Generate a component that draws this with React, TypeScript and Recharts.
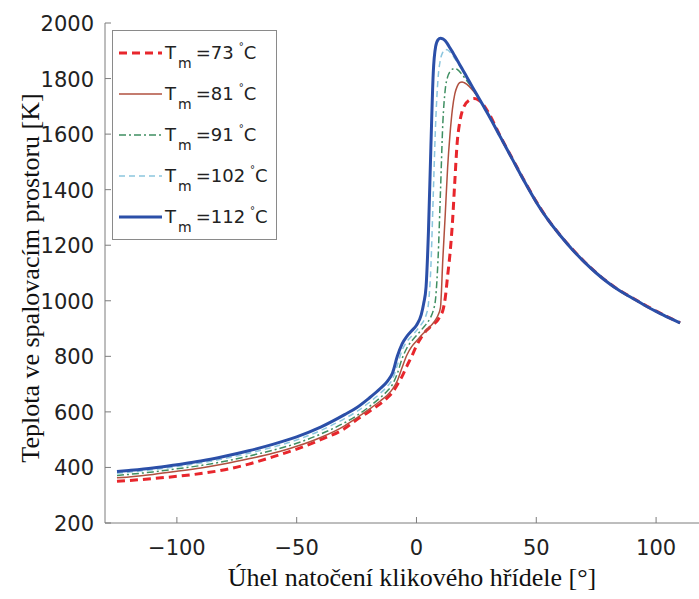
import { LineChart, Line, XAxis, YAxis, Legend } from "recharts";

// crank angle [deg]
const angles = [
  -125, -120, -110, -100, -90, -80, -70, -60, -50, -40, -30, -25, -20, -15, -12, -10,
  -8, -6, -4, -2, 0, 2,
  3, 4, 5, 6, 7, 8, 9, 10, 11, 12, 13, 14, 15, 16, 17, 18, 19, 20,
  22, 24, 26, 28, 30,
  35, 40, 45, 50, 55, 60, 65, 70, 75, 80, 85, 90, 95, 100, 105, 110,
];

// in-cylinder temperature [K] for each intake temperature
const temps73 = [
  350, 353, 360, 368, 378, 392, 412, 438, 466, 500, 540, 572, 600, 630, 652, 670,
  698, 728, 765, 800, 838, 868,
  880, 892, 900, 908, 915, 922, 932, 948, 965, 1010, 1090, 1170, 1280, 1430, 1570, 1640, 1680, 1702,
  1722, 1728, 1722, 1705, 1678,
  1592, 1512, 1432, 1357, 1291, 1236, 1186, 1141, 1101, 1066, 1036, 1011, 986, 963, 941, 921,
];
const temps81 = [
  363, 366, 375, 386, 398, 413, 431, 451, 476, 508, 550, 578, 608, 640, 662, 682,
  712, 760, 805, 835, 855, 875,
  884, 893, 901, 910, 920, 932, 948, 975, 1150, 1310, 1480, 1600, 1690, 1745, 1772, 1785, 1788, 1785,
  1772, 1752, 1728, 1702, 1672,
  1590, 1510, 1430, 1355, 1290, 1235, 1185, 1140, 1100, 1065, 1035, 1010, 985, 962, 940, 920,
];
const temps91 = [
  371, 375, 384, 395, 407, 422, 441, 462, 487, 520, 561, 586, 617, 652, 677, 699,
  738, 792, 830, 855, 875, 895,
  905, 915, 927, 942, 965, 1010, 1150, 1390, 1640, 1760, 1806, 1825, 1834, 1836, 1833, 1825, 1815, 1804,
  1781, 1756, 1729, 1700, 1670,
  1590, 1510, 1430, 1355, 1290, 1235, 1185, 1140, 1100, 1065, 1035, 1010, 985, 962, 940, 920,
];
const temps102 = [
  379, 383, 392, 403, 416, 432, 451, 473, 499, 533, 576, 601, 632, 668, 694, 718,
  768, 822, 853, 873, 893, 915,
  928, 948, 990, 1120, 1380, 1640, 1800, 1868, 1895, 1905, 1903, 1895, 1885, 1872, 1860, 1846, 1832, 1818,
  1790, 1760, 1730, 1700, 1670,
  1590, 1510, 1430, 1355, 1290, 1235, 1185, 1140, 1100, 1065, 1035, 1010, 985, 962, 940, 920,
];
const temps112 = [
  385, 389, 398, 410, 423, 440, 460, 483, 510, 545, 590, 615, 648, 685, 712, 740,
  800, 845, 872, 892, 912, 950,
  990, 1050, 1250, 1550, 1820, 1915, 1940, 1945, 1943, 1936, 1924, 1910, 1896, 1881, 1866, 1851, 1836, 1821,
  1790, 1760, 1730, 1700, 1670,
  1590, 1510, 1430, 1355, 1290, 1235, 1185, 1140, 1100, 1065, 1035, 1010, 985, 962, 940, 920,
];

const xTicks = [-100, -50, 0, 50, 100];
const yTicks = [200, 400, 600, 800, 1000, 1200, 1400, 1600, 1800, 2000];

const series = [
  { key: "t73", label: "73", color: "#e8262c", width: 3, dash: "8 5" },
  { key: "t81", label: "81", color: "#b0503f", width: 1.5, dash: undefined },
  { key: "t91", label: "91", color: "#3f8f62", width: 1.5, dash: "7 3 2 3" },
  { key: "t102", label: "102", color: "#8cc6de", width: 1.5, dash: "6 4" },
  { key: "t112", label: "112", color: "#2b4fa8", width: 3, dash: undefined },
];

const data = angles.map((a, i) => ({
  angle: a,
  t73: temps73[i],
  t81: temps81[i],
  t91: temps91[i],
  t102: temps102[i],
  t112: temps112[i],
}));

const AXIS = "#7d7d7d";
const TICK_FONT = "'DejaVu Sans', sans-serif";
const SERIF = "'Liberation Serif', 'Times New Roman', serif";

function fmt(v: number) {
  return v < 0 ? `\u2212${Math.abs(v)}` : `${v}`;
}

function BottomTick({ x, y, payload }: any) {
  return (
    <g>
      <line x1={x} y1={y} x2={x} y2={y - 6} stroke={AXIS} />
      <text x={x} y={y + 32} textAnchor="middle" fontSize={21} fontFamily={TICK_FONT} fill="#222">
        {fmt(payload.value)}
      </text>
    </g>
  );
}

function TopTick({ x, y }: any) {
  return <line x1={x} y1={y} x2={x} y2={y + 6} stroke={AXIS} />;
}

function LeftTick({ x, y, payload }: any) {
  return (
    <g>
      <line x1={x} y1={y} x2={x + 6} y2={y} stroke={AXIS} />
      <text x={x - 11} y={y + 8} textAnchor="end" fontSize={21} fontFamily={TICK_FONT} fill="#222">
        {payload.value}
      </text>
    </g>
  );
}

function RightTick({ x, y }: any) {
  return <line x1={x} y1={y} x2={x - 6} y2={y} stroke={AXIS} />;
}

function LegendBox() {
  const rowY = [23, 64, 105, 146, 187];
  return (
    <svg width={165} height={210} style={{ display: "block" }}>
      <rect x={0.5} y={0.5} width={164} height={209} fill="#fff" stroke="#8a8a8a" />
      {series.map((s, i) => (
        <g key={s.key}>
          <line
            x1={7}
            x2={50}
            y1={rowY[i]}
            y2={rowY[i]}
            stroke={s.color}
            strokeWidth={s.width}
            strokeDasharray={s.dash}
          />
          <text x={53} y={rowY[i] + 6} fontSize={18} fontFamily={TICK_FONT} fill="#222">
            T
            <tspan dx={2} dy={9} fontSize={14}>m</tspan>
            <tspan dx={4} dy={-9}>={s.label}</tspan>
            <tspan dx={5} dy={-9} fontSize={10}>°</tspan>
            <tspan dx={0} dy={9}>C</tspan>
          </text>
        </g>
      ))}
    </svg>
  );
}

function XTitle({ viewBox }: any) {
  return (
    <text x={412} y={viewBox.y + 63} textAnchor="middle" fontSize={26} fontFamily={SERIF} fill="#111">
      Úhel natočení klikového hřídele [°]
    </text>
  );
}

function YTitle() {
  return (
    <text
      x={30}
      y={278}
      transform="rotate(-90 30 278)"
      textAnchor="middle"
      dominantBaseline="central"
      fontSize={26}
      fontFamily={SERIF}
      fill="#111"
    >
      Teplota ve spalovacím prostoru [K]
    </text>
  );
}

export default function App() {
  return (
    <div
      style={{
        position: "absolute",
        left: 0,
        top: 0,
        width: 699,
        height: 599,
        overflow: "hidden",
        background: "#fff",
      }}
    >
      <LineChart
        width={720}
        height={599}
        data={data}
        margin={{ top: 23, right: 16, bottom: 0, left: 0 }}
      >
        <XAxis
          dataKey="angle"
          type="number"
          domain={[-130, 120]}
          ticks={xTicks}
          allowDataOverflow
          height={76}
          stroke={AXIS}
          tickSize={0}
          tickMargin={0}
          tick={<BottomTick />}
          label={<XTitle />}
        />
        <XAxis
          xAxisId="top"
          orientation="top"
          dataKey="angle"
          type="number"
          domain={[-130, 120]}
          ticks={xTicks}
          allowDataOverflow
          height={0}
          stroke={AXIS}
          tickSize={0}
          tickMargin={0}
          tick={<TopTick />}
        />
        <YAxis
          type="number"
          domain={[200, 2000]}
          ticks={yTicks}
          allowDataOverflow
          width={105}
          stroke={AXIS}
          tickSize={0}
          tickMargin={0}
          tick={<LeftTick />}
          label={<YTitle />}
        />
        <YAxis
          yAxisId="right"
          orientation="right"
          type="number"
          domain={[200, 2000]}
          ticks={yTicks}
          allowDataOverflow
          width={0}
          stroke={AXIS}
          tickSize={0}
          tickMargin={0}
          tick={<RightTick />}
        />
        {series.map((s) => (
          <Line
            key={s.key}
            type="monotone"
            dataKey={s.key}
            stroke={s.color}
            strokeWidth={s.width}
            strokeDasharray={s.dash}
            dot={false}
            activeDot={false}
            isAnimationActive={false}
          />
        ))}
        <Legend
          layout="horizontal"
          verticalAlign="middle"
          align="center"
          wrapperStyle={{ left: 112, top: 30, width: 165, height: 210 }}
          content={() => <LegendBox />}
        />
      </LineChart>
    </div>
  );
}
